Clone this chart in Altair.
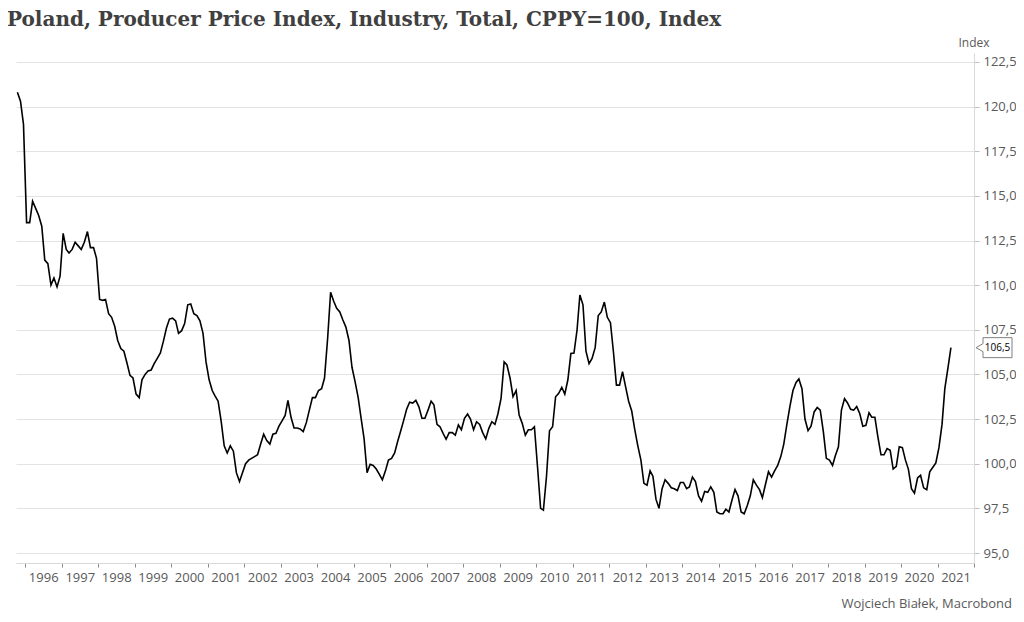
import altair as alt
import pandas as pd

TITLE = "Poland, Producer Price Index, Industry, Total, CPPY=100, Index"
SOURCE = "Wojciech Białek, Macrobond"
UNIT = "Index"

# Monthly values, Oct 1995 .. May 2021
v1995 = [120.8, 120.3, 119.0]
v1996 = [113.5, 113.5, 114.7, 114.3, 113.9, 113.3, 111.4, 111.2, 110.0, 110.4, 109.9, 110.5]
v1997 = [112.9, 112.0, 111.8, 112.0, 112.4, 112.2, 112.0, 112.4, 113.0, 112.1, 112.1, 111.5]
v1998 = [109.2, 109.15, 109.2, 108.4, 108.2, 107.7, 106.9, 106.45, 106.3, 105.65, 104.95, 104.8]
v1999 = [103.9, 103.7, 104.7, 105.0, 105.2, 105.25, 105.6, 105.9, 106.2, 106.85, 107.6, 108.1]
v2000 = [108.15, 108.0, 107.3, 107.45, 107.85, 108.9, 108.95, 108.4, 108.3, 108.0, 107.3, 105.7]
v2001 = [104.7, 104.1, 103.8, 103.5, 102.4, 101.0, 100.6, 101.0, 100.7, 99.5, 99.0, 99.5]
v2002 = [100.0, 100.2, 100.3, 100.4, 100.5, 101.1, 101.65, 101.3, 101.1, 101.65, 101.7, 102.1]
v2003 = [102.4, 102.7, 103.55, 102.6, 102.0, 102.0, 101.95, 101.8, 102.3, 103.0, 103.7, 103.7]
v2004 = [104.1, 104.2, 104.8, 107.0, 109.6, 109.1, 108.7, 108.5, 108.05, 107.65, 106.9, 105.4]
v2005 = [104.6, 103.7, 102.6, 101.4, 99.5, 99.97, 99.9, 99.7, 99.4, 99.1, 99.6, 100.2]
v2006 = [100.3, 100.6, 101.2, 101.8, 102.4, 103.05, 103.45, 103.4, 103.55, 103.2, 102.55, 102.55]
v2007 = [103.0, 103.5, 103.3, 102.2, 102.07, 101.7, 101.37, 101.74, 101.74, 101.6, 102.17, 101.9]
v2008 = [102.54, 102.78, 102.5, 101.9, 102.35, 102.2, 101.74, 101.39, 101.98, 102.35, 102.2, 102.8]
v2009 = [103.66, 105.7, 105.53, 104.8, 103.75, 104.1, 102.73, 102.26, 101.6, 101.9, 101.9, 102.07]
v2010 = [99.83, 97.5, 97.4, 99.3, 101.85, 102.07, 103.75, 103.94, 104.28, 103.9, 104.7, 106.18]
v2011 = [106.2, 107.5, 109.45, 108.9, 106.3, 105.6, 105.9, 106.5, 108.3, 108.5, 109.05, 108.2]
v2012 = [107.9, 106.2, 104.4, 104.4, 105.15, 104.3, 103.5, 102.95, 101.9, 101.0, 100.2, 98.9]
v2013 = [98.8, 99.6, 99.3, 98.0, 97.5, 98.6, 99.1, 98.9, 98.65, 98.6, 98.5, 98.95]
v2014 = [98.95, 98.6, 98.7, 99.25, 99.0, 98.2, 97.9, 98.45, 98.4, 98.7, 98.4, 97.3]
v2015 = [97.2, 97.2, 97.45, 97.3, 97.95, 98.55, 98.2, 97.3, 97.2, 97.65, 98.2, 99.1]
v2016 = [98.8, 98.55, 98.1, 98.85, 99.55, 99.25, 99.6, 99.9, 100.4, 101.1, 102.2, 103.2]
v2017 = [104.1, 104.55, 104.75, 104.2, 102.5, 101.85, 102.1, 102.9, 103.15, 103.0, 101.8, 100.3]
v2018 = [100.2, 99.9, 100.45, 100.95, 103.0, 103.65, 103.4, 103.05, 103.0, 103.2, 102.8, 102.1]
v2019 = [102.15, 102.85, 102.6, 102.6, 101.5, 100.5, 100.5, 100.85, 100.75, 99.7, 99.85, 100.95]
v2020 = [100.9, 100.2, 99.7, 98.6, 98.35, 99.2, 99.35, 98.65, 98.55, 99.55, 99.8, 100.05]
v2021 = [100.9, 102.2, 104.2, 105.35, 106.5]

values = (v1995 + v1996 + v1997 + v1998 + v1999 + v2000 + v2001 + v2002 + v2003
          + v2004 + v2005 + v2006 + v2007 + v2008 + v2009 + v2010 + v2011 + v2012
          + v2013 + v2014 + v2015 + v2016 + v2017 + v2018 + v2019 + v2020 + v2021)

dates = pd.date_range("1995-10-01", periods=len(values), freq="MS") + pd.Timedelta(days=14)
df = pd.DataFrame({"date": dates, "value": values})
last = df.tail(1).copy()
last["label"] = last["value"].map(lambda v: f"{v:.1f}".replace(".", ","))

y_ticks = [95.0 + 2.5 * i for i in range(12)]
x_ticks = [alt.DateTime(year=y, month=1, date=1) for y in range(1996, 2023)]

W, H = 958, 510
FONT = "Open Sans"
GREY = "#595959"

x_scale = alt.Scale(domain=[alt.DateTime(year=1995, month=10, date=1),
                            alt.DateTime(year=2022, month=1, date=1)])
y_scale = alt.Scale(domain=[94.44, 123.0], nice=False, zero=False)

y_axis = alt.Axis(
    orient="right", values=y_ticks,
    labelExpr="replace(format(datum.value, '.1f'), '.', ',')",
    title=None, grid=True, gridColor="#e3e3e3", gridWidth=1,
    domainColor="#d9d9d9", tickColor="#bfbfbf", tickSize=5,
    labelFont=FONT, labelFontSize=13, labelColor=GREY, labelPadding=4,
    labelOverlap=False)

line = alt.Chart(df).mark_line(color="#000000", strokeWidth=1.6).encode(
    x=alt.X("date:T", scale=x_scale, axis=alt.Axis(
        values=x_ticks,
        labelExpr="year(datum.value) > 2021 ? '' : timeFormat(datum.value, '%Y')",
        labelOffset=18, tickSize=4, tickColor="#8c8c8c", domainColor="#d9d9d9",
        grid=False, labelFont=FONT, labelFontSize=13, labelColor=GREY,
        labelPadding=4, title=None, labelOverlap=False, labelFlush=False,
        labelBound=False)),
    y=alt.Y("value:Q", scale=y_scale, axis=y_axis),
)

callout_path = "M0,0 L7,-4 L7,-10 L36,-10 L36,10 L7,10 L7,4 Z"
box = alt.Chart(last).mark_point(
    shape=callout_path, size=4, filled=True, fill="white", stroke="#7f7f7f",
    strokeWidth=1, opacity=1
).encode(x=alt.value(W + 2), y=alt.Y("value:Q", scale=y_scale, axis=y_axis))

box_text = alt.Chart(last).mark_text(
    font=FONT, fontSize=10, color="#000000", align="center", baseline="middle"
).encode(x=alt.value(W + 23.5), y=alt.Y("value:Q", scale=y_scale, axis=y_axis),
         text="label:N")

title = alt.Chart(pd.DataFrame({"t": [TITLE]})).mark_text(
    font="DejaVu Serif", fontWeight="bold", fontSize=20, color="#404040",
    align="left", baseline="alphabetic"
).encode(x=alt.value(-9), y=alt.value(-27), text="t:N")

unit = alt.Chart(pd.DataFrame({"t": [UNIT]})).mark_text(
    font=FONT, fontSize=12, color=GREY, align="center", baseline="alphabetic"
).encode(x=alt.value(W), y=alt.value(-6), text="t:N")

source = alt.Chart(pd.DataFrame({"t": [SOURCE]})).mark_text(
    font=FONT, fontSize=13, color=GREY, align="right", baseline="alphabetic"
).encode(x=alt.value(W + 38), y=alt.value(555), text="t:N")

chart = alt.layer(line, box, box_text, title, unit, source).properties(
    width=W, height=H,
    autosize=alt.AutoSizeParams(type="none"),
    padding={"left": 8, "top": 45, "right": 42, "bottom": 50},
).configure_view(stroke=None)

chart.save("out.html", embed_options={"renderer": "svg", "actions": False})
